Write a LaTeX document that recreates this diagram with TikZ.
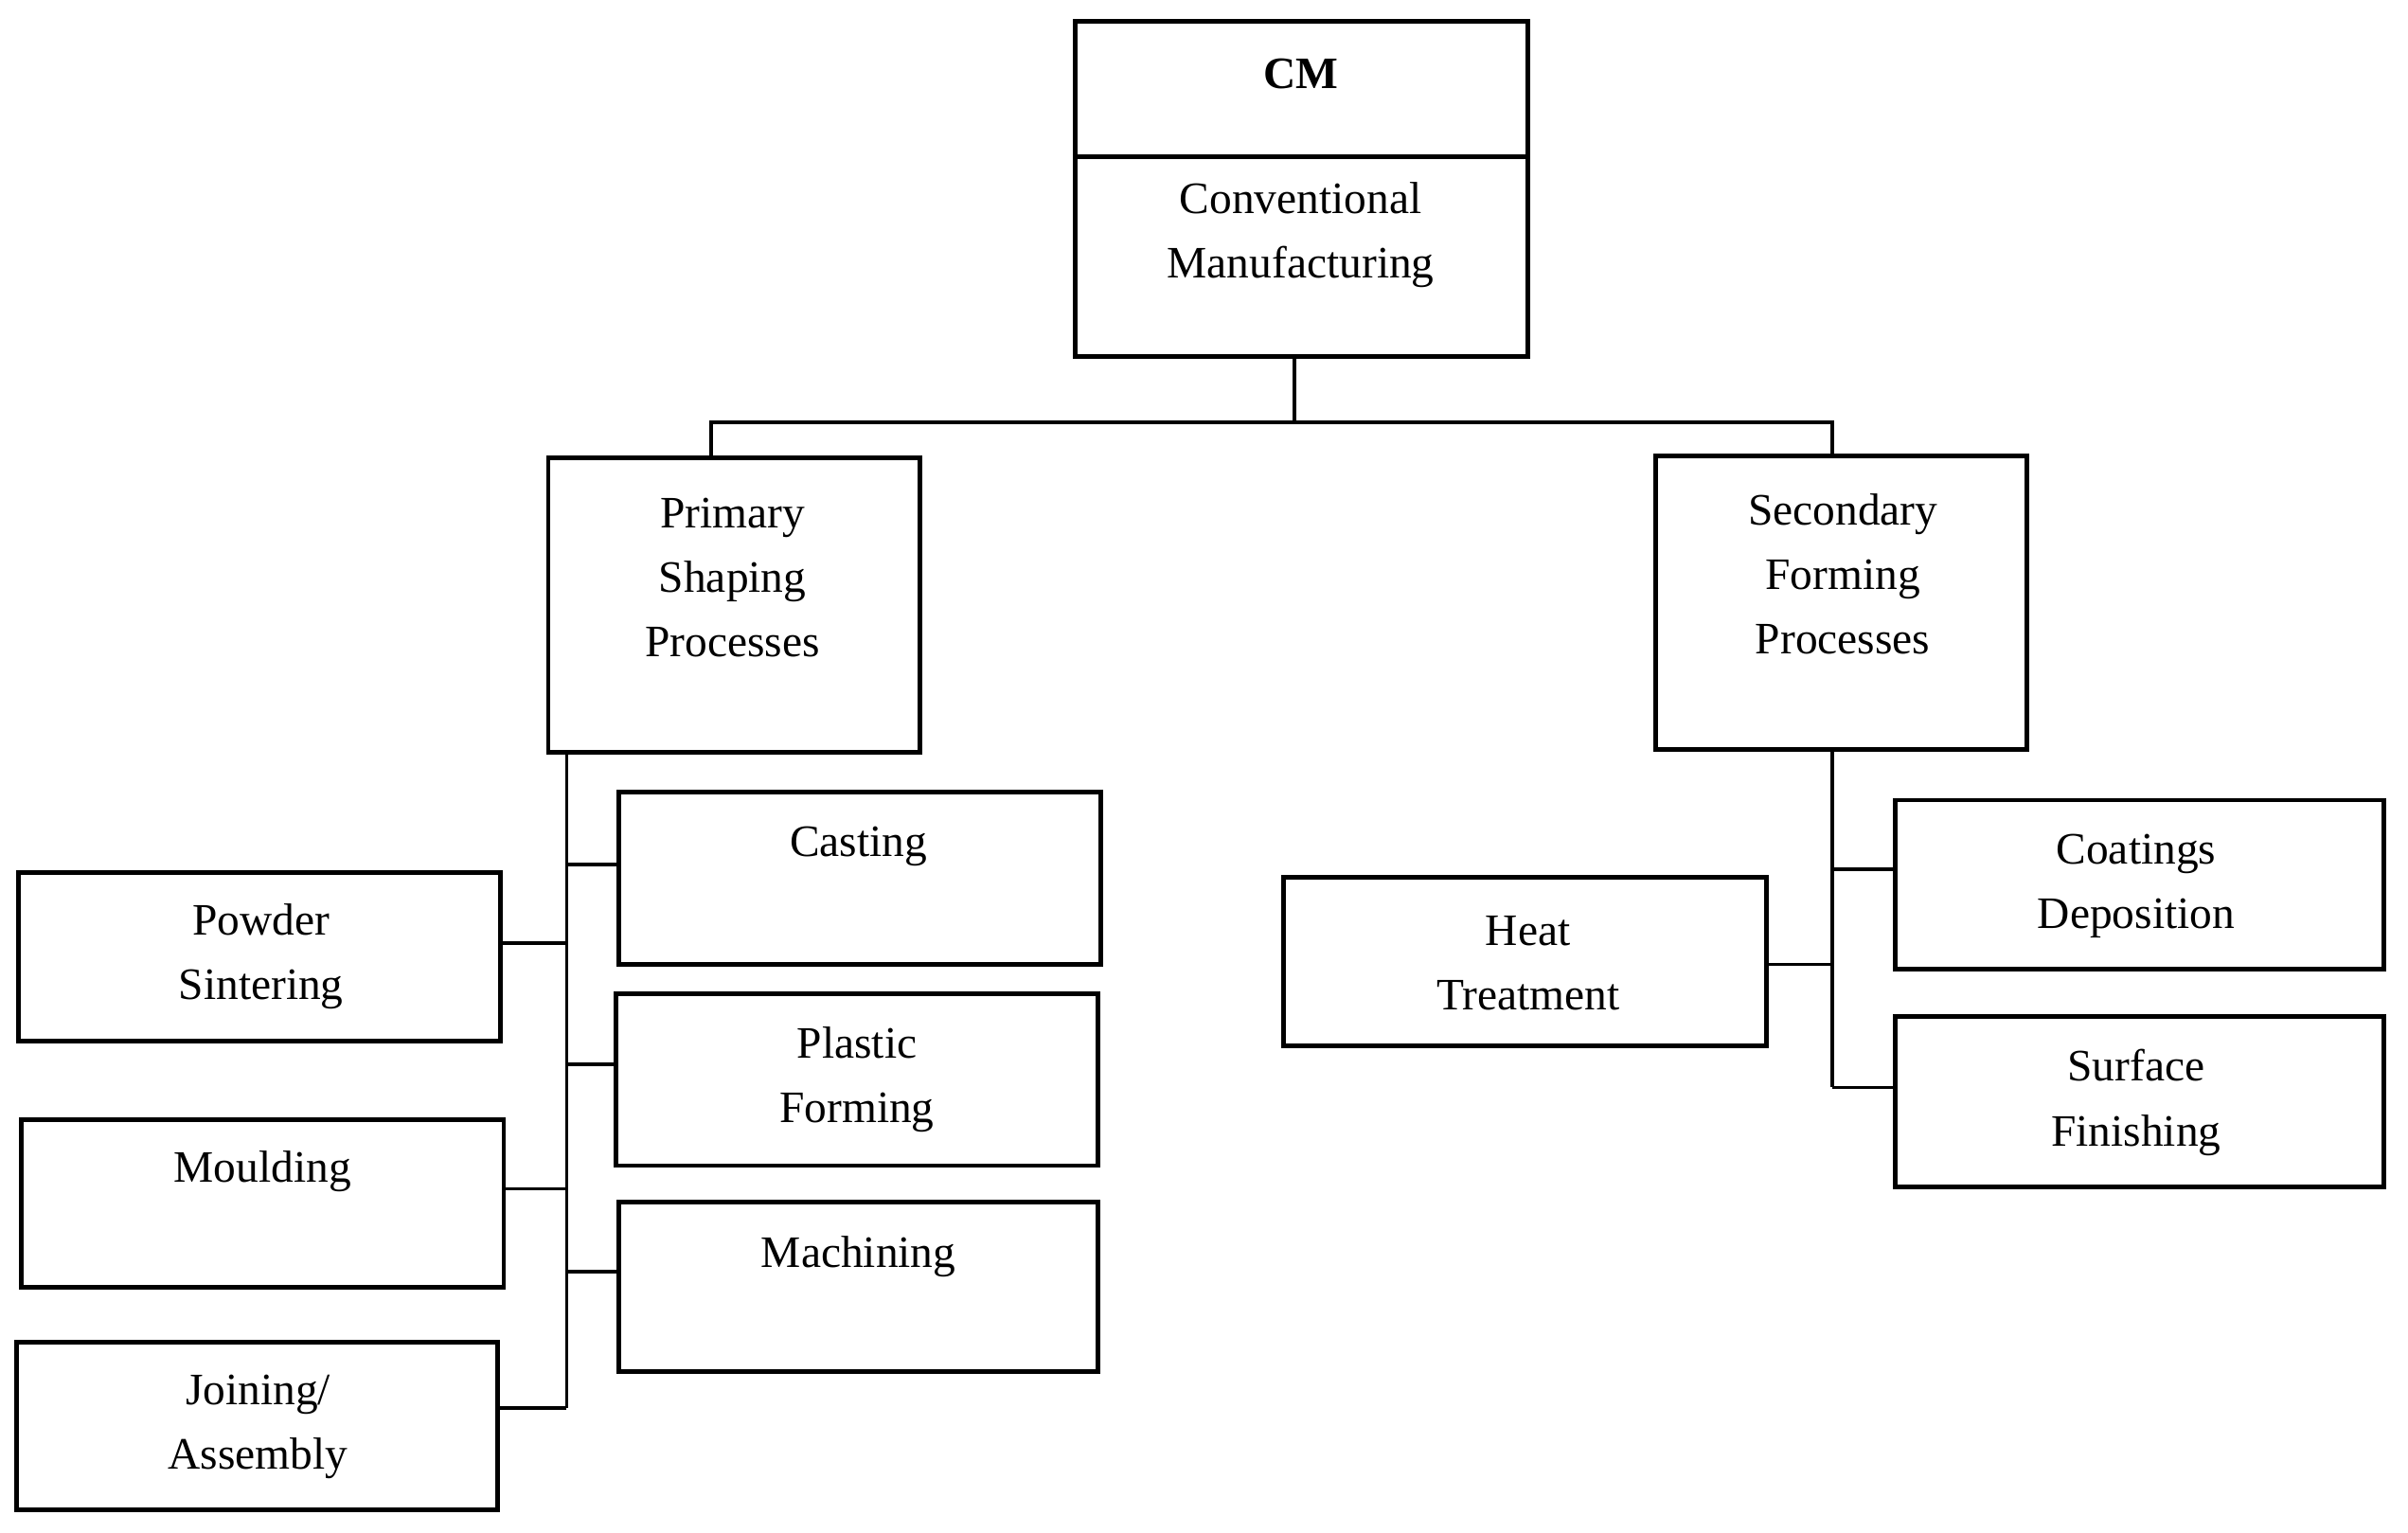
\documentclass[tikz,border=0pt]{standalone}
\usepackage{fontspec}
\setmainfont{Liberation Serif}
\begin{document}
\begin{tikzpicture}[x=0.01622cm,y=-0.01622cm,
  box/.style={draw,line width=1.4pt,inner sep=0pt},
  txt/.style={font=\fontsize{13.5}{19.4}\selectfont,align=center,inner sep=0pt},
  con/.style={line width=1pt}]
\useasboundingbox (0,0) rectangle (1568,998);
\newcommand\bx[5]{\node[box,minimum width={(#4-#2)*0.01622cm},minimum height={(#5-#3)*0.01622cm}] (#1) at ({(#2+#4)/2},{(#3+#5)/2}) {};}
\bx{cm}{700}{14}{995}{232}
\draw[line width=1.4pt] (cm.west |- 0,102) -- (cm.east |- 0,102);
\node[txt,font=\fontsize{13.5}{19.4}\selectfont\bfseries] (cmt) at (847,48) {CM};
\node[txt] (cmt2) at (847,153) {Conventional\\Manufacturing};
\bx{pri}{357}{298}{599}{490}
\node[txt] at (477,376) {Primary\\Shaping\\Processes};
\bx{sec}{1078}{297}{1320}{488}
\node[txt] at (1200,374) {Secondary\\Forming\\Processes};
\bx{cast}{403}{516}{717}{628}
\node[txt] at (559,551) {Casting};
\bx{pow}{12}{568}{326}{678}
\node[txt] at (170,623) {Powder\\Sintering};
\bx{pla}{401}{647}{715}{759}
\node[txt] at (558,703) {Plastic\\Forming};
\bx{mou}{14}{729}{328}{838}
\node[txt] at (171,763) {Moulding};
\bx{mac}{403}{783}{715}{893}
\node[txt] at (559,818) {Machining};
\bx{joi}{11}{874}{324}{983}
\node[txt] at (168,929) {Joining/\\Assembly};
\bx{coa}{1234}{521}{1552}{631}
\node[txt] at (1391,577) {Coatings\\Deposition};
\bx{hea}{836}{571}{1150}{681}
\node[txt] at (995,627) {Heat\\Treatment};
\bx{sur}{1234}{662}{1552}{773}
\node[txt] at (1391,718) {Surface\\Finishing};
% top connectors
\coordinate (j) at (843,275);
\draw[con] (cm.south -| j) -- (j);
\draw[con] (pri.north -| 463,0) -- (463,275) -- (1193,275) -- (sec.north -| 1193,0);
% left spine
\draw[con] (pri.south -| 369,0) -- (369,917);
\draw[con] (369,563) -- (cast.west |- 0,563);
\draw[con] (369,614) -- (pow.east |- 0,614);
\draw[con] (369,693) -- (pla.west |- 0,693);
\draw[con] (369,774) -- (mou.east |- 0,774);
\draw[con] (369,828) -- (mac.west |- 0,828);
\draw[con] (369,917) -- (joi.east |- 0,917);
% right spine
\draw[con] (sec.south -| 1193,0) -- (1193,708);
\draw[con] (1193,566) -- (coa.west |- 0,566);
\draw[con] (1193,628) -- (hea.east |- 0,628);
\draw[con] (1193,708) -- (sur.west |- 0,708);
\end{tikzpicture}
\end{document}
